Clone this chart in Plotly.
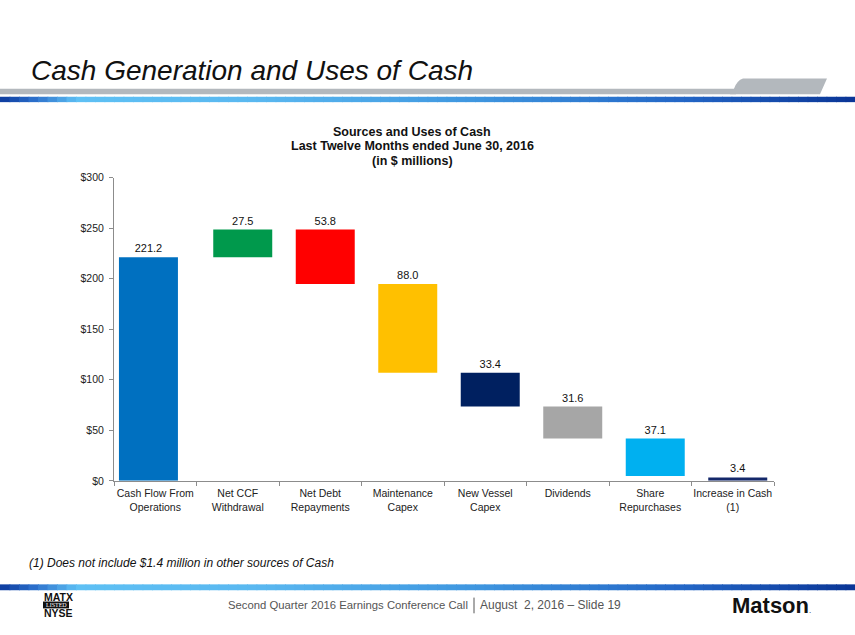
import plotly.graph_objects as go

# ---- data ----
categories = ["Cash Flow From<br>Operations", "Net CCF<br>Withdrawal", "Net Debt<br>Repayments",
              "Maintenance<br>Capex", "New Vessel<br>Capex", "Dividends", "Share<br>Repurchases",
              "Increase in Cash<br>(1)"]
amounts = [221.2, 27.5, -53.8, -88.0, -33.4, -31.6, -37.1, 3.4]
is_total = [False, False, False, False, False, False, False, True]
labels = ["221.2", "27.5", "53.8", "88.0", "33.4", "31.6", "37.1", "3.4"]
bar_colors = ["#0070C0", "#00994C", "#FF0000", "#FFC000", "#002060", "#A6A6A6", "#00B0F0", "#14286A"]
y_ticks = [0, 50, 100, 150, 200, 250, 300]
chart_title_lines = ["Sources and Uses of Cash", "Last Twelve Months ended June 30, 2016", "(in $ millions)"]

# waterfall bases computed from the amounts
bases, heights = [], []
running = 0.0
for a, tot in zip(amounts, is_total):
    if tot:
        bases.append(0.0)
        heights.append(abs(a))
    elif a >= 0:
        bases.append(running)
        heights.append(a)
        running += a
    else:
        running += a
        bases.append(running)
        heights.append(-a)

W, H = 855, 635


def px(x):
    return x / W


def py(y):
    return 1 - y / H


fig = go.Figure()
fig.add_trace(go.Bar(
    x=categories, y=heights, base=bases,
    marker=dict(color=bar_colors, line=dict(width=0)),
    width=0.715,
    offset=[-0.44, -0.297, -0.297, -0.297, -0.297, -0.297, -0.297, -0.297],
    text=labels, textposition="outside",
    textfont=dict(family="Arial", size=11, color="#111111"),
    cliponaxis=False, hoverinfo="skip",
))

shapes = []


def hexrgb(h):
    h = h.lstrip('#')
    return tuple(int(h[i:i + 2], 16) for i in (0, 2, 4))


stops = [(0.0, "#0B3A9C"), (0.04, "#2C6FCB"), (0.09, "#5EC0F4"), (0.3, "#5AB8F0"),
         (0.55, "#3F97E0"), (0.8, "#2366C6"), (1.0, "#0A3596")]


def col_at(t):
    for (t0, c0), (t1, c1) in zip(stops[:-1], stops[1:]):
        if t0 <= t <= t1:
            f = (t - t0) / (t1 - t0) if t1 > t0 else 0
            a, b = hexrgb(c0), hexrgb(c1)
            return "rgb(%d,%d,%d)" % tuple(round(a[i] + (b[i] - a[i]) * f) for i in range(3))
    return stops[-1][1]


def gradient_band(y0, y1, n=90):
    for i in range(n):
        x0 = i / n
        x1 = (i + 1) / n + 0.001
        shapes.append(dict(type="rect", xref="paper", yref="paper", x0=x0, x1=x1,
                           y0=py(y1), y1=py(y0), fillcolor=col_at((i + 0.5) / n),
                           line=dict(width=0), layer="above"))


# header gray band + tab
shapes.append(dict(type="rect", xref="paper", yref="paper", x0=0, x1=px(736), y0=py(90), y1=py(84.3),
                   fillcolor="#B3B8BD", line=dict(width=0)))
path = "M %f,%f L %f,%f Q %f,%f %f,%f L %f,%f L %f,%f Z" % (
    px(730), py(90), px(734), py(84.3), px(737), py(76), px(743), py(74), px(827), py(74), px(820), py(90))
shapes.append(dict(type="path", xref="paper", yref="paper", path=path, fillcolor="#B3B8BD",
                   line=dict(width=0)))
gradient_band(92.5, 98)
gradient_band(589.5, 595.5)
# footer separator
shapes.append(dict(type="line", xref="paper", yref="paper", x0=px(474), x1=px(474), y0=py(603), y1=py(619),
                   line=dict(color="#555555", width=1)))
# LISTED box
shapes.append(dict(type="rect", xref="paper", yref="paper", x0=px(43), x1=px(69), y0=py(614), y1=py(607),
                   fillcolor="#111111", line=dict(width=0)))

annotations = [
    dict(text="<i>Cash Generation and Uses of Cash</i>", x=px(29), y=py(66), xanchor="left", yanchor="middle",
         font=dict(family="Liberation Sans Narrow, Arial Narrow, Arial", size=28, color="#111111")),
    dict(text="<i>(1) Does not include $1.4 million in other sources of Cash</i>", x=px(27), y=py(568),
         xanchor="left", yanchor="middle",
         font=dict(family="Liberation Sans Narrow, Arial Narrow, Arial", size=12, color="#111111")),
    dict(text="Second Quarter 2016 Earnings Conference Call", x=px(470), y=py(611), xanchor="right",
         yanchor="middle", font=dict(family="Arial", size=11.3, color="#555555")),
    dict(text="August  2, 2016 \u2013 Slide 19", x=px(478), y=py(611), xanchor="left",
         yanchor="middle", font=dict(family="Arial", size=12, color="#555555")),
    dict(text="<b>MATX</b>", x=px(42), y=py(602), xanchor="left", yanchor="middle",
         font=dict(family="Liberation Sans Narrow, Arial Narrow, Arial", size=10.5, color="#111111")),
    dict(text="LISTED", x=px(56), y=py(610.5), xanchor="center", yanchor="middle",
         font=dict(family="Liberation Serif, Times New Roman", size=6, color="#FFFFFF")),
    dict(text="<b>NYSE</b>", x=px(42), y=py(619), xanchor="left", yanchor="middle",
         font=dict(family="Liberation Sans Narrow, Arial Narrow, Arial", size=10.5, color="#111111")),
    dict(text="<b>Matson</b><span style='font-size:8px'>.</span>", x=px(730), y=py(611), xanchor="left",
         yanchor="middle", font=dict(family="Arial", size=22, color="#111111")),
]
for line_text, yy in zip(chart_title_lines, [128, 143, 158]):
    annotations.append(dict(text="<b>%s</b>" % line_text, x=px(412), y=py(yy), xanchor="center",
                            yanchor="middle", font=dict(family="Arial", size=12.5, color="#111111")))
for a in annotations:
    a.update(xref="paper", yref="paper", showarrow=False)

fig.update_layout(
    width=W, height=H, margin=dict(l=0, r=0, t=0, b=0),
    paper_bgcolor="white", plot_bgcolor="white",
    showlegend=False, shapes=shapes, annotations=annotations,
    font=dict(family="Arial", color="#222222"),
    xaxis=dict(domain=[px(114), px(774)], showgrid=False, showline=True, linecolor="#8C8C8C",
               linewidth=1, ticks="outside", tickson="boundaries", ticklen=4, tickcolor="#8C8C8C",
               tickangle=0, ticklabelstandoff=3,
               tickfont=dict(family="Arial", size=10.5, color="#222222"), fixedrange=True),
    yaxis=dict(domain=[py(484), py(175)], range=[0, 300], tickvals=y_ticks,
               ticktext=["$%d" % v for v in y_ticks], showgrid=False, zeroline=False,
               showline=True, linecolor="#8C8C8C", linewidth=1, ticks="outside", ticklen=4,
               tickcolor="#8C8C8C", ticklabelstandoff=3,
               tickfont=dict(family="Arial", size=10.5, color="#222222"),
               fixedrange=True),
)

fig.write_html("out.html", config={"displayModeBar": False},
               post_script="document.body.style.margin='0';document.body.style.overflow='hidden';")
